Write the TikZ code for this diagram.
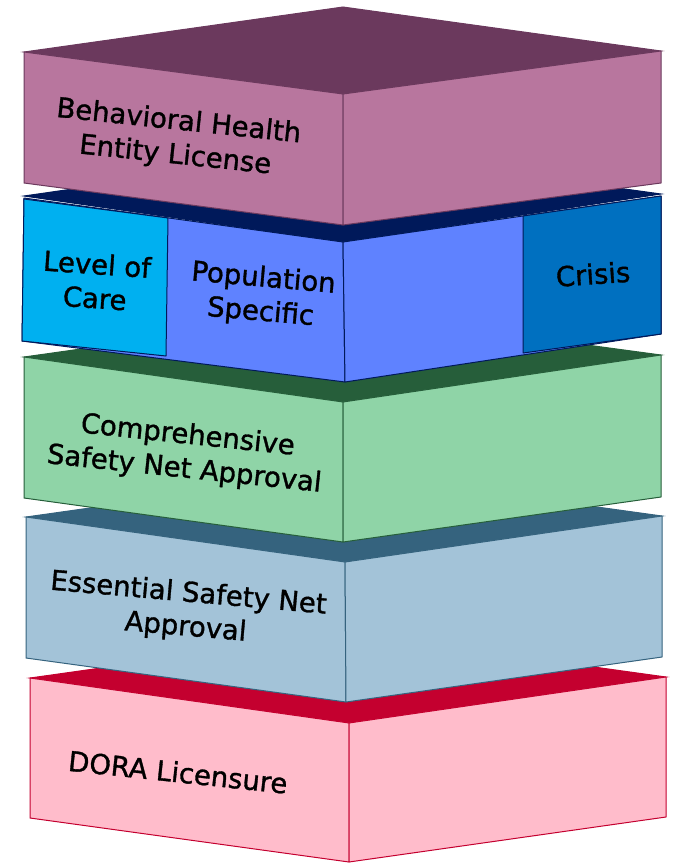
\documentclass[tikz,border=0pt]{standalone}
\usepackage{fontspec}
\setmainfont{DejaVu Sans}
\newfontfamily\lblfont{DejaVu Sans}[FakeBold=1.2]
\definecolor{purFront}{HTML}{B8769E}
\definecolor{purTop}{HTML}{6B395D}
\definecolor{navy}{HTML}{00195A}
\definecolor{popBlue}{HTML}{5F82FF}
\definecolor{cyanP}{HTML}{00B0F0}
\definecolor{crisisB}{HTML}{0070C0}
\definecolor{grnFront}{HTML}{8FD4A7}
\definecolor{grnTop}{HTML}{265E3A}
\definecolor{stFront}{HTML}{A3C3D8}
\definecolor{stTop}{HTML}{35637E}
\definecolor{pkFront}{HTML}{FFBCCB}
\definecolor{pkTop}{HTML}{C4002F}
\tikzset{
  lbl/.style={font=\lblfont\fontsize{27.5}{34}\selectfont, align=center, text=black, inner sep=0pt},
  topface/.style={fill=#1, draw=#1, line width=1pt},
  sideface/.style={line width=1pt, line join=round}
}
\begin{document}
\begin{tikzpicture}[x=1pt,y=-1pt]
\useasboundingbox (0,0) rectangle (673,865);
% box 5 : DORA
\path[topface=pkTop] (30,678) -- (349,633) -- (666,677) -- (349,723) -- cycle;
\filldraw[sideface, fill=pkFront, draw=pkTop] (30,678) -- (349,723) -- (349,862) -- (30,818) -- cycle;
\filldraw[sideface, fill=pkFront, draw=pkTop] (349,723) -- (666,677) -- (666,817) -- (349,862) -- cycle;
% box 4 : Essential
\path[topface=stTop] (26,517) -- (345,472) -- (662,516) -- (345,562) -- cycle;
\filldraw[sideface, fill=stFront, draw=stTop] (26,517) -- (345,562) -- (346,702) -- (26,658) -- cycle;
\filldraw[sideface, fill=stFront, draw=stTop] (345,562) -- (662,516) -- (662,657) -- (346,702) -- cycle;
% box 3 : Comprehensive
\path[topface=grnTop] (24,357) -- (343,312) -- (661,355) -- (343,402) -- cycle;
\filldraw[sideface, fill=grnFront, draw=grnTop] (24,357) -- (343,402) -- (343,542) -- (24,498) -- cycle;
\filldraw[sideface, fill=grnFront, draw=grnTop] (343,402) -- (661,355) -- (661,497) -- (343,542) -- cycle;
% box 2 : blue row
\path[topface=navy] (24,196) -- (343,150) -- (661,194) -- (343,242) -- cycle;
\filldraw[sideface, fill=popBlue, draw=navy] (24,198) -- (343,242) -- (345,382) -- (22,341) -- cycle;
\filldraw[sideface, fill=popBlue, draw=navy] (343,242) -- (661,196) -- (661,334) -- (345,382) -- cycle;
\filldraw[sideface, fill=cyanP, draw=navy] (24,199) -- (168,218) -- (166,356) -- (22,341) -- cycle;
\filldraw[sideface, fill=crisisB, draw=navy] (523,216) -- (661,196) -- (661,334) -- (523,353) -- cycle;
% box 1 : Behavioral Health
\path[topface=purTop] (24,52) -- (343,7) -- (661,51) -- (343,94) -- cycle;
\filldraw[sideface, fill=purFront, draw=purTop] (24,52) -- (343,94) -- (343,225) -- (24,183) -- cycle;
\filldraw[sideface, fill=purFront, draw=purTop] (343,94) -- (661,51) -- (661,183) -- (343,225) -- cycle;
% labels
\node[lbl, rotate=-6] (bhe) at (177,139) {Behavioral Health\\Entity License};
\node[lbl, rotate=-4] (loc) at (96,281) {Level of\\Care};
\node[lbl, rotate=-5] (pop) at (262,296) {Population\\Specific};
\node[lbl, rotate=4] (cri) at (593,274) {Crisis};
\node[lbl, rotate=-6] (csn) at (186,453) {Comprehensive\\Safety Net Approval};
\node[lbl, rotate=-5] (esn) at (187,611) {Essential Safety Net\\Approval};
\node[lbl, rotate=-6] (dora) at (178,772) {DORA Licensure};
\end{tikzpicture}
\end{document}
